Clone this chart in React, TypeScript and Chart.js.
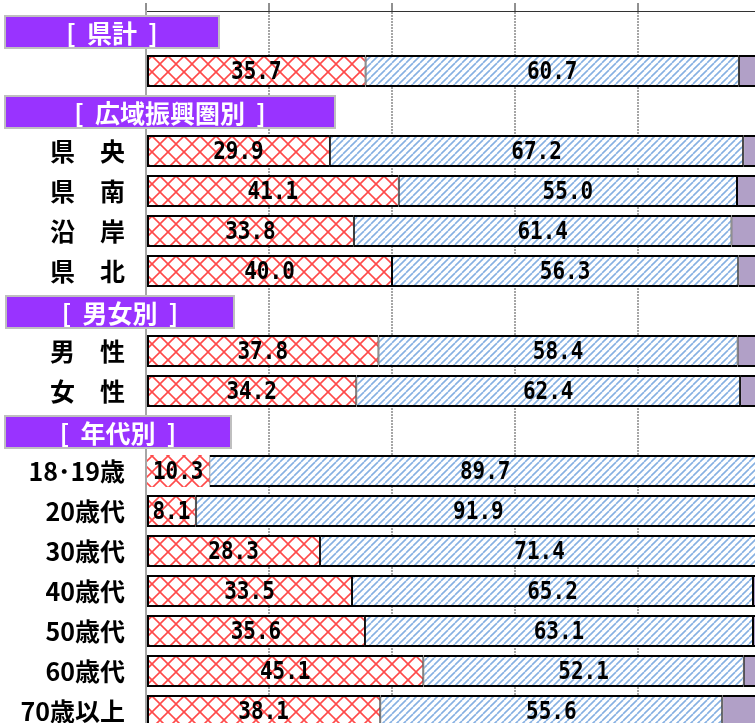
import React, { useEffect, useRef } from 'react';
import { Chart, registerables } from 'chart.js';

Chart.register(...registerables);

// ---- data ----
const categories = [
  'hdr-県計', '県計', 'hdr-広域振興圏別', '県央', '県南', '沿岸', '県北',
  'hdr-男女別', '男性', '女性', 'hdr-年代別',
  '18･19歳', '20歳代', '30歳代', '40歳代', '50歳代', '60歳代', '70歳以上',
];
const tickLabels = [
  '', '', '', '県　央', '県　南', '沿　岸', '県　北',
  '', '男　性', '女　性', '',
  '18･19歳', '20歳代', '30歳代', '40歳代', '50歳代', '60歳代', '70歳以上',
];
const headerTitles = [
  '[  県計  ]', null, '[  広域振興圏別  ]', null, null, null, null,
  '[  男女別  ]', null, null, '[  年代別  ]',
  null, null, null, null, null, null, null,
];
const seriesA = [null, 35.7, null, 29.9, 41.1, 33.8, 40.0, null, 37.8, 34.2, null, 10.3, 8.1, 28.3, 33.5, 35.6, 45.1, 38.1];
const seriesB = [null, 60.7, null, 67.2, 55.0, 61.4, 56.3, null, 58.4, 62.4, null, 89.7, 91.9, 71.4, 65.2, 63.1, 52.1, 55.6];
const seriesC = [null, 3.6, null, 2.9, 3.9, 4.8, 3.7, null, 3.8, 3.4, null, null, null, 0.3, 1.3, 1.3, 2.8, 6.3];
const xTickValues = [0, 20, 40, 60, 80, 100];

// ---- styles ----
const HEADER_BOX_X = { 0: [5, 219], 2: [5, 335], 7: [6, 234], 10: [5, 231] } as Record<number, number[]>;
const NO_BORDER_ROW_A = 11;

function makeCrossPattern(): CanvasPattern | string {
  const s = 16;
  const c = document.createElement('canvas');
  c.width = s; c.height = s;
  const g = c.getContext('2d');
  if (!g) return '#ff8080';
  g.fillStyle = '#ffffff';
  g.fillRect(0, 0, s, s);
  g.strokeStyle = '#ff4a4a';
  g.lineWidth = 1.6;
  for (const k of [-s, 0, s]) {
    g.beginPath(); g.moveTo(k, 0); g.lineTo(k + s, s); g.stroke();
    g.beginPath(); g.moveTo(k + s, 0); g.lineTo(k, s); g.stroke();
  }
  return g.createPattern(c, 'repeat') || '#ff8080';
}

function makeStripePattern(): CanvasPattern | string {
  const s = 7;
  const c = document.createElement('canvas');
  c.width = s; c.height = s;
  const g = c.getContext('2d');
  if (!g) return '#9fc0e8';
  g.fillStyle = '#ffffff';
  g.fillRect(0, 0, s, s);
  g.strokeStyle = '#86b0e2';
  g.lineWidth = 1.6;
  for (const k of [-s, 0, s]) {
    g.beginPath(); g.moveTo(k, s); g.lineTo(k + s, 0); g.stroke();
  }
  return g.createPattern(c, 'repeat') || '#9fc0e8';
}

const valueLabelPlugin = {
  id: 'valueLabels',
  afterDatasetsDraw(chart: any) {
    const ctx = chart.ctx;
    ctx.save();
    ctx.fillStyle = '#000';
    ctx.font = "bold 25px 'DejaVu Sans Mono'";
    ctx.textAlign = 'center';
    ctx.textBaseline = 'middle';
    [0, 1].forEach((di) => {
      const meta = chart.getDatasetMeta(di);
      const data = chart.data.datasets[di].data;
      meta.data.forEach((el: any, i: number) => {
        const v = data[i];
        if (v === null || v === undefined) return;
        const cx = (el.x + el.base) / 2;
        ctx.save();
        ctx.translate(cx, el.y + 1);
        ctx.scale(0.84, 1);
        ctx.fillText(Number(v).toFixed(1), 0, 0);
        ctx.restore();
      });
    });
    ctx.restore();
  },
};

const headerPlugin = {
  id: 'headers',
  afterDraw(chart: any) {
    const ctx = chart.ctx;
    const yScale = chart.scales.y;
    ctx.save();
    headerTitles.forEach((t, i) => {
      if (!t) return;
      const y = yScale.getPixelForValue(i);
      const [x0, x1] = HEADER_BOX_X[i];
      const top = Math.round(y - 15);
      ctx.fillStyle = '#9933ff';
      ctx.fillRect(x0, top, x1 - x0, 32);
      ctx.strokeStyle = '#bfbfbf';
      ctx.lineWidth = 2;
      ctx.strokeRect(x0, top, x1 - x0, 32);
      ctx.fillStyle = '#ffffff';
      ctx.font = "bold 25px 'Noto Sans CJK JP'";
      ctx.textAlign = 'center';
      ctx.textBaseline = 'middle';
      ctx.fillText(t, (x0 + x1) / 2, top + 17);
    });
    ctx.restore();
  },
};

export default function App() {
  const ref = useRef<HTMLCanvasElement | null>(null);

  useEffect(() => {
    if (!ref.current) return;
    const cross = makeCrossPattern();
    const stripe = makeStripePattern();
    const chart = new Chart(ref.current, {
      type: 'bar',
      data: {
        labels: categories,
        datasets: [
          {
            label: 'A',
            data: seriesA,
            backgroundColor: cross,
            borderColor: '#000',
            borderWidth: (c: any) => (c.dataIndex === NO_BORDER_ROW_A ? 0 : { top: 2, bottom: 2, left: 2, right: 1 }),
            borderSkipped: false,
          },
          {
            label: 'B',
            data: seriesB,
            backgroundColor: stripe,
            borderColor: '#000',
            borderWidth: (c: any) => ({ top: 2, bottom: 2, left: 1, right: seriesC[c.dataIndex] ? 1 : 2 }),
            borderSkipped: false,
          },
          {
            label: 'C',
            data: seriesC,
            backgroundColor: '#b1a0c7',
            borderColor: '#000',
            borderWidth: { top: 2, bottom: 2, left: 1, right: 2 },
            borderSkipped: false,
          },
        ] as any,
      },
      options: {
        indexAxis: 'y',
        responsive: false,
        animation: false,
        devicePixelRatio: 1,
        layout: { padding: { top: 0, left: 0, right: 9, bottom: 9 } },
        datasets: { bar: { barPercentage: 1, categoryPercentage: 0.8 } },
        plugins: { legend: { display: false }, tooltip: { enabled: false } },
        scales: {
          x: {
            position: 'top',
            stacked: true,
            min: 0,
            max: 100,
            afterBuildTicks: (s: any) => { s.ticks = xTickValues.map((v) => ({ value: v })); },
            afterFit: (s: any) => { s.height = 11; s.paddingLeft = 0; s.paddingRight = 0; },
            ticks: { display: false },
            grid: { color: '#a6a6a6', lineWidth: 2, drawTicks: true, tickLength: 8, tickColor: '#222', tickWidth: 1 },
            border: { display: true, color: '#333', width: 1, dash: [2, 1] },
          },
          y: {
            stacked: true,
            afterFit: (s: any) => { s.width = 146; s.paddingTop = 0; s.paddingBottom = 0; },
            ticks: {
              autoSkip: false,
              padding: 21,
              color: '#000',
              font: { family: "'Noto Sans CJK JP'", size: 25, weight: 'bold' },
              callback: (_v: any, i: number) => tickLabels[i],
            },
            grid: { display: false, drawTicks: false },
            border: { display: true, color: '#a6a6a6', width: 2 },
          },
        },
      } as any,
      plugins: [valueLabelPlugin, headerPlugin],
    });
    return () => chart.destroy();
  }, []);

  return (
    <div style={{ position: 'fixed', left: 0, top: 0, width: 755, height: 723, overflow: 'hidden', background: '#fff' }}>
      <canvas ref={ref} width={770} height={740} style={{ display: 'block', width: 770, height: 740 }} />
    </div>
  );
}
